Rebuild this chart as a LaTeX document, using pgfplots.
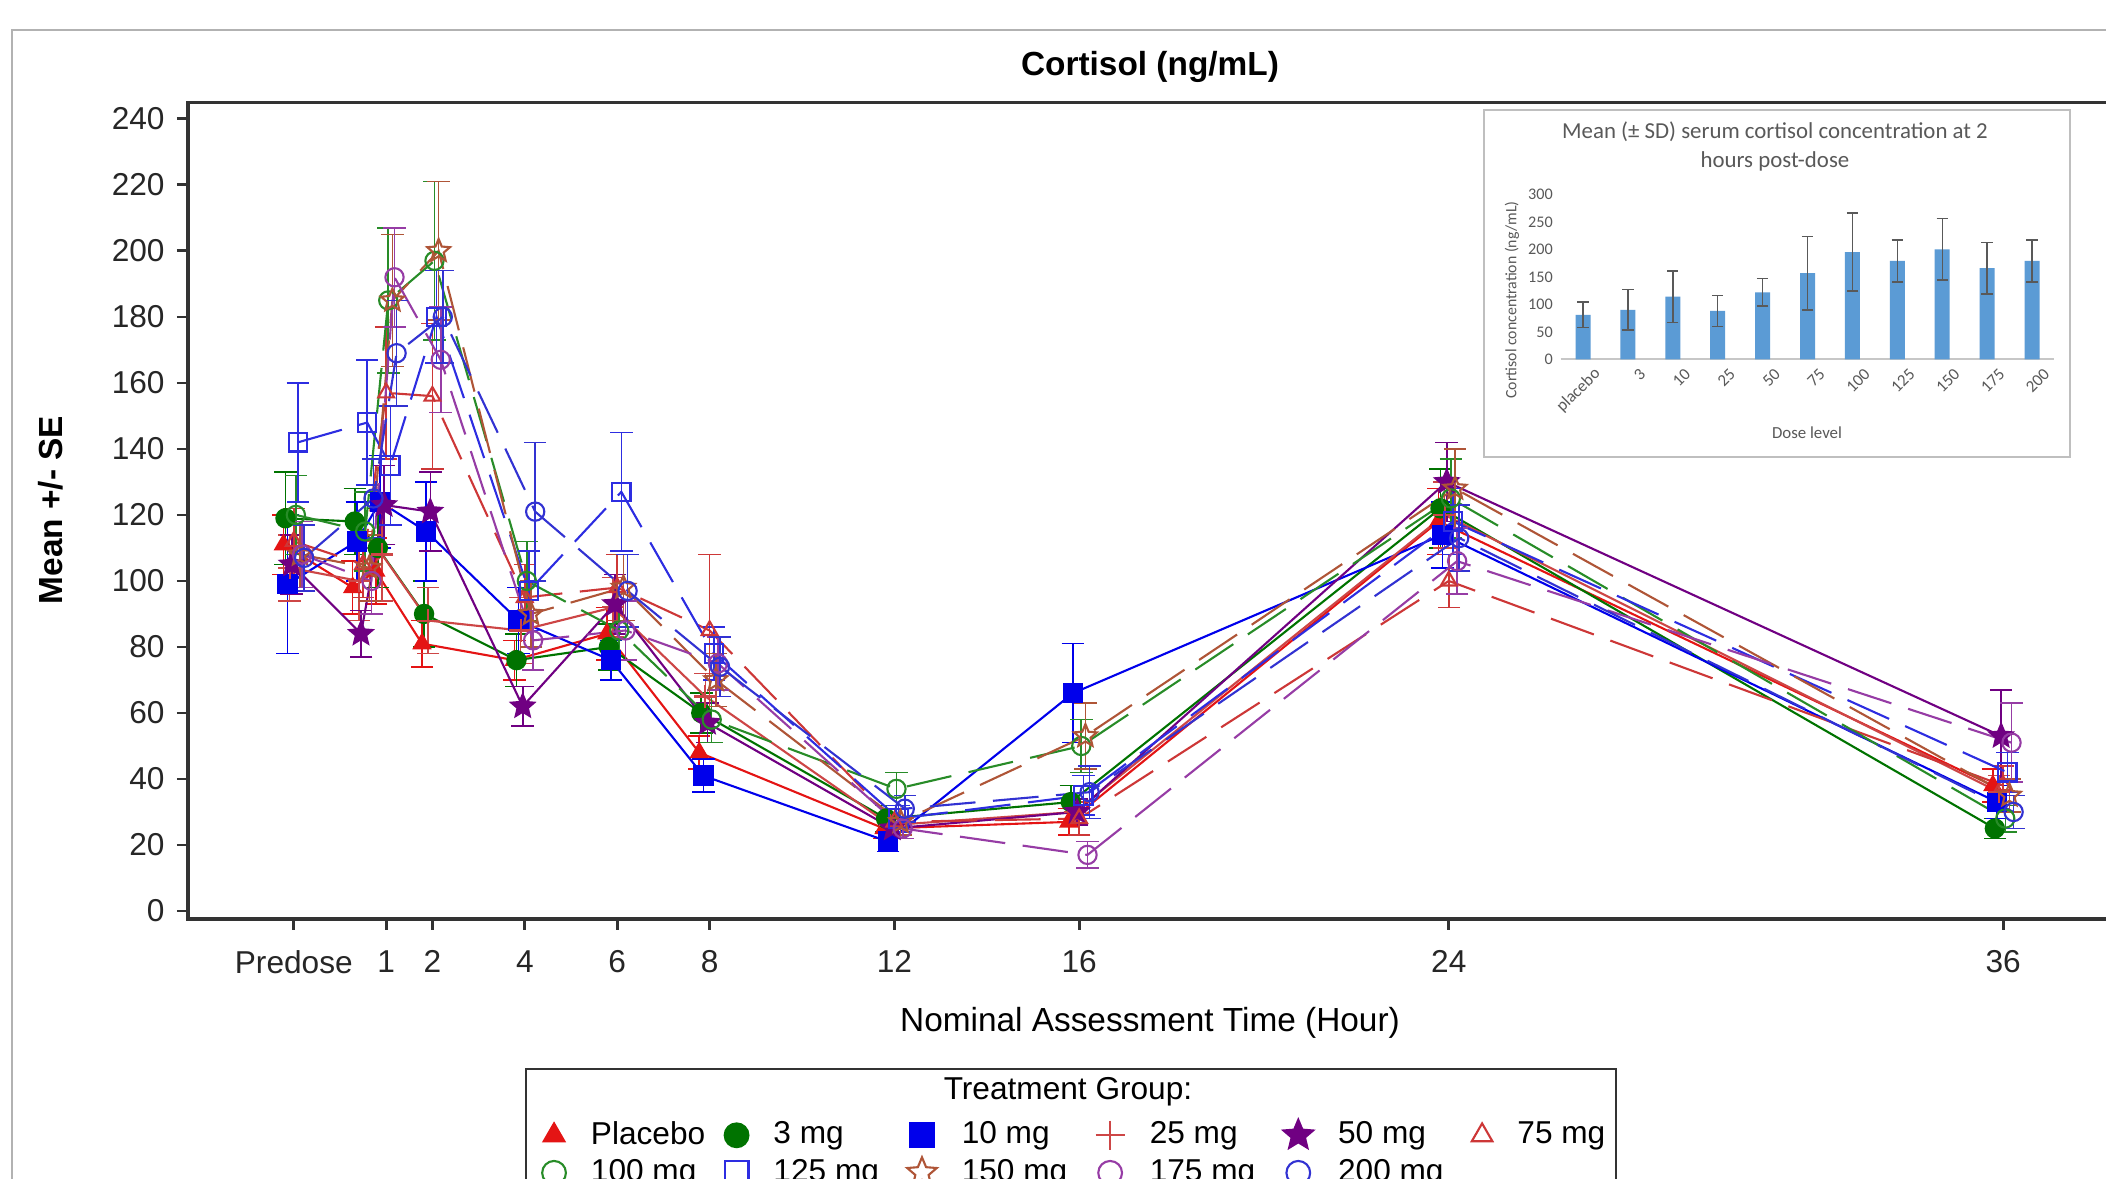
\documentclass[border=0pt]{standalone}
\usepackage{fontspec}
\setmainfont{Liberation Sans}
\newfontfamily\calfont{Carlito}
\usepackage{pgfplots}
\usepackage{pgfplotstable}
\pgfplotsset{compat=1.18}
\usetikzlibrary{plotmarks}

\definecolor{cPla}{RGB}{228,20,20}
\definecolor{cThree}{RGB}{0,115,0}
\definecolor{cTen}{RGB}{0,0,235}
\definecolor{cTwf}{RGB}{205,70,70}
\definecolor{cFif}{RGB}{112,0,130}
\definecolor{cSev}{RGB}{205,55,55}
\definecolor{cHun}{RGB}{40,140,40}
\definecolor{cOtf}{RGB}{45,45,225}
\definecolor{cOfi}{RGB}{175,85,55}
\definecolor{cOse}{RGB}{150,60,165}
\definecolor{cTwo}{RGB}{50,50,210}
\definecolor{barblue}{RGB}{91,155,213}
\definecolor{xlgray}{RGB}{89,89,89}

% five-pointed star marks (filled and open)
\pgfdeclareplotmark{fstar}{%
  \pgfpathmoveto{\pgfpointpolar{90}{\pgfplotmarksize}}%
  \pgfpathlineto{\pgfpointscale{0.45}{\pgfpointpolar{126}{\pgfplotmarksize}}}%
  \pgfpathlineto{\pgfpointpolar{162}{\pgfplotmarksize}}%
  \pgfpathlineto{\pgfpointscale{0.45}{\pgfpointpolar{198}{\pgfplotmarksize}}}%
  \pgfpathlineto{\pgfpointpolar{234}{\pgfplotmarksize}}%
  \pgfpathlineto{\pgfpointscale{0.45}{\pgfpointpolar{270}{\pgfplotmarksize}}}%
  \pgfpathlineto{\pgfpointpolar{306}{\pgfplotmarksize}}%
  \pgfpathlineto{\pgfpointscale{0.45}{\pgfpointpolar{342}{\pgfplotmarksize}}}%
  \pgfpathlineto{\pgfpointpolar{18}{\pgfplotmarksize}}%
  \pgfpathlineto{\pgfpointscale{0.45}{\pgfpointpolar{54}{\pgfplotmarksize}}}%
  \pgfpathclose\pgfusepathqfillstroke}
\pgfdeclareplotmark{ostar}{%
  \pgfpathmoveto{\pgfpointpolar{90}{\pgfplotmarksize}}%
  \pgfpathlineto{\pgfpointscale{0.45}{\pgfpointpolar{126}{\pgfplotmarksize}}}%
  \pgfpathlineto{\pgfpointpolar{162}{\pgfplotmarksize}}%
  \pgfpathlineto{\pgfpointscale{0.45}{\pgfpointpolar{198}{\pgfplotmarksize}}}%
  \pgfpathlineto{\pgfpointpolar{234}{\pgfplotmarksize}}%
  \pgfpathlineto{\pgfpointscale{0.45}{\pgfpointpolar{270}{\pgfplotmarksize}}}%
  \pgfpathlineto{\pgfpointpolar{306}{\pgfplotmarksize}}%
  \pgfpathlineto{\pgfpointscale{0.45}{\pgfpointpolar{342}{\pgfplotmarksize}}}%
  \pgfpathlineto{\pgfpointpolar{18}{\pgfplotmarksize}}%
  \pgfpathlineto{\pgfpointscale{0.45}{\pgfpointpolar{54}{\pgfplotmarksize}}}%
  \pgfpathclose\pgfusepathqstroke}

% t = hour (Predose at -1), m = mean, se = standard error
\pgfplotstableread{
t m se
-1 111 9
0.5 98 8
1 103 10
2 81 7
4 76 6
6 84 8
8 48 5
12 25 3
16 27 4
24 118 10
36 38 5
}\tPla
\pgfplotstableread{
t m se
-1 119 14
0.5 118 10
1 110 12
2 90 10
4 76 8
6 80 7
8 60 6
12 28 4
16 33 5
24 122 12
36 25 3
}\tThree
\pgfplotstableread{
t m se
-1 99 21
0.5 112 12
1 124 14
2 115 15
4 88 10
6 76 6
8 41 5
12 21 3
16 66 15
24 114 10
36 33 5
}\tTen
\pgfplotstableread{
t m se
-1 104 10
0.5 100 12
1 108 14
2 88 10
4 85 10
6 92 9
8 65 7
12 26 3
16 30 4
24 120 10
36 36 5
}\tTwf
\pgfplotstableread{
t m se
-1 105 9
0.5 84 7
1 123 12
2 121 12
4 62 6
6 93 9
8 57 6
12 25 3
16 30 4
24 130 12
36 53 14
}\tFif
\pgfplotstableread{
t m se
-1 112 10
0.5 105 10
1 157 20
2 156 22
4 95 10
6 98 10
8 85 23
12 27 4
16 28 5
24 100 8
36 38 6
}\tSev
\pgfplotstableread{
t m se
-1 120 12
0.5 115 12
1 185 22
2 197 24
4 100 12
6 85 9
8 58 7
12 37 5
16 50 8
24 125 12
36 28 4
}\tHun
\pgfplotstableread{
t m se
-1 142 18
0.5 148 19
1 135 18
2 180 14
4 97 12
6 127 18
8 78 8
12 28 4
16 35 6
24 118 10
36 42 6
}\tOtf
\pgfplotstableread{
t m se
-1 108 10
0.5 104 10
1 185 20
2 200 21
4 90 10
6 98 10
8 70 8
12 27 4
16 53 10
24 128 12
36 35 5
}\tOfi
\pgfplotstableread{
t m se
-1 108 10
0.5 100 10
1 192 15
2 167 16
4 82 9
6 85 9
8 75 8
12 25 3
16 17 4
24 106 10
36 51 12
}\tOse
\pgfplotstableread{
t m se
-1 107 10
0.5 125 12
1 169 16
2 180 14
4 121 21
6 97 11
8 74 9
12 31 4
16 36 8
24 113 10
36 30 5
}\tTwo

% inset: mean and SD at 2 h by dose
\pgfplotstableread{
i m sd
0 81 23
1 90 37
2 114 47
3 88 28
4 122 25
5 157 67
6 195 71
7 179 38
8 200 56
9 166 47
10 179 38
}\tInset

\pgfplotsset{
  grp/.style={line width=0.6pt, mark size=2.6pt,
    error bars/y dir=both, error bars/y explicit,
    error bars/error bar style={line width=0.45pt, solid},
    error bars/error mark options={rotate=90, line width=0.45pt, mark size=3.2pt, solid}},
  dsh/.style={dash pattern=on 13pt off 5pt, mark options={solid}},
}

\begin{document}
\begin{tikzpicture}
\useasboundingbox (-3.40,-2.68) rectangle (17.66,9.11);
\clip (-3.40,-2.68) rectangle (17.66,9.11);
\draw[black!30, line width=0.7pt] (-3.28,-4) rectangle (19,8.81);

\begin{axis}[
  at={(-1.52cm,-0.08cm)}, anchor=south west,
  x=0.462cm, y=0.033cm,
  xmin=-3.29, xmax=38.6, ymin=-2.42, ymax=245,
  axis line style={line width=1pt, black!80},
  tick align=outside, tick pos=left,
  major tick length=0.11cm,
  tick style={line width=0.8pt, black!80},
  xtick={-1,1,2,4,6,8,12,16,24,36},
  xticklabels={Predose,1,2,4,6,8,12,16,24,36},
  ytick={0,20,...,240},
  ticklabel style={font=\fontsize{9}{10}\selectfont, black!85},
  xticklabel style={yshift=-0.08cm},
  /pgf/number format/assume math mode=true,
  legend columns=6,
  legend image code/.code={\draw[#1, every mark/.append style={scale=1.3}] plot[only marks] coordinates {(0.1cm,0cm)};},
  legend style={draw=none, fill=none, at={(0.1772,-0.2364)}, anchor=north west,
    font=\fontsize{9}{10}\selectfont, row sep=2.1pt,
    nodes={inner ysep=0pt, inner xsep=2pt},
    /tikz/every odd column/.append style={column sep=0.18cm},
    /tikz/every even column/.append style={column sep=0.067cm}},
]
\addplot[grp, color=cPla, mark=triangle*] table[x expr=\thisrow{t}-0.225, y=m, y error=se] {\tPla};
\addlegendentry{\makebox[1.2cm][l]{Placebo}}
\addplot[grp, color=cThree, mark=*] table[x expr=\thisrow{t}-0.18, y=m, y error=se] {\tThree};
\addlegendentry{\makebox[1.2cm][l]{3 mg}}
\addplot[grp, color=cTen, mark=square*] table[x expr=\thisrow{t}-0.135, y=m, y error=se] {\tTen};
\addlegendentry{\makebox[1.2cm][l]{10 mg}}
\addplot[grp, color=cTwf, mark=+, mark size=3.2pt] table[x expr=\thisrow{t}-0.09, y=m, y error=se] {\tTwf};
\addlegendentry{\makebox[1.2cm][l]{25 mg}}
\addplot[grp, color=cFif, mark=fstar, mark size=3.4pt] table[x expr=\thisrow{t}-0.045, y=m, y error=se] {\tFif};
\addlegendentry{\makebox[1.2cm][l]{50 mg}}
\addplot[grp, dsh, color=cSev, mark=triangle] table[x expr=\thisrow{t}, y=m, y error=se] {\tSev};
\addlegendentry{\makebox[1.2cm][l]{75 mg}}
\addplot[grp, dsh, color=cHun, mark=o] table[x expr=\thisrow{t}+0.045, y=m, y error=se] {\tHun};
\addlegendentry{\makebox[1.2cm][l]{100 mg}}
\addplot[grp, dsh, color=cOtf, mark=square] table[x expr=\thisrow{t}+0.09, y=m, y error=se] {\tOtf};
\addlegendentry{\makebox[1.2cm][l]{125 mg}}
\addplot[grp, dsh, color=cOfi, mark=ostar, mark size=3.4pt] table[x expr=\thisrow{t}+0.135, y=m, y error=se] {\tOfi};
\addlegendentry{\makebox[1.2cm][l]{150 mg}}
\addplot[grp, dsh, color=cOse, mark=o] table[x expr=\thisrow{t}+0.18, y=m, y error=se] {\tOse};
\addlegendentry{\makebox[1.2cm][l]{175 mg}}
\addplot[grp, dsh, color=cTwo, mark=o] table[x expr=\thisrow{t}+0.225, y=m, y error=se] {\tTwo};
\addlegendentry{\makebox[1.2cm][l]{200 mg}}
\end{axis}

\node[font=\bfseries\fontsize{9.5}{11}\selectfont] at (8.10,8.44) {Cortisol (ng/mL)};
\node[rotate=90, font=\bfseries\fontsize{9.5}{11}\selectfont] at (-2.89,4.01) {Mean +/- SE};
\node[font=\fontsize{9.5}{11}\selectfont] at (8.10,-1.12) {Nominal Assessment Time (Hour)};
\draw[line width=0.8pt, black!80] (1.86,-1.58) rectangle (12.76,-3.2);
\node[font=\fontsize{9}{11}\selectfont] at (7.28,-1.81) {Treatment Group:};

% inset chart
\filldraw[fill=white, draw=black!25, line width=0.5pt] (11.44,4.54) rectangle (17.30,8.01);
\begin{axis}[
  at={(12.2055cm,5.517cm)}, anchor=south west,
  x=0.449cm, y=0.0055cm,
  xmin=-0.5, xmax=10.5, ymin=0, ymax=300,
  ybar, bar width=0.15cm,
  axis x line*=bottom, axis y line*=left,
  y axis line style={draw=none},
  x axis line style={draw=black!22, line width=0.5pt},
  major tick length=0pt,
  xtick={0,...,10},
  xticklabels={placebo,3,10,25,50,75,100,125,150,175,200},
  ytick={0,50,...,300},
  xticklabel style={font=\calfont\fontsize{4.8}{5}\selectfont, text=xlgray, rotate=45, anchor=east, inner sep=1pt, yshift=-0.19cm, xshift=0.06cm},
  yticklabel style={font=\calfont\fontsize{4.6}{5}\selectfont, text=xlgray, inner sep=2pt},
  /pgf/number format/assume math mode=true,
]
\addplot[fill=barblue, draw=none,
  error bars/.cd, y dir=both, y explicit,
  error bar style={black!65, line width=0.4pt},
  error mark options={rotate=90, black!65, line width=0.4pt, mark size=1.6pt}]
  table[x=i, y=m, y error=sd] {\tInset};
\end{axis}
\node[font=\calfont\fontsize{6.5}{7}\selectfont, text=xlgray] at (14.35,7.79) {Mean (± SD) serum cortisol concentration at 2};
\node[font=\calfont\fontsize{6.5}{7}\selectfont, text=xlgray] at (14.35,7.50) {hours post-dose};
\node[rotate=90, font=\calfont\fontsize{4.5}{5}\selectfont, text=xlgray] at (11.72,6.11) {Cortisol concentration (ng/mL)};
\node[font=\calfont\fontsize{4.8}{5}\selectfont, text=xlgray] at (14.67,4.78) {Dose level};
\end{tikzpicture}
\end{document}
